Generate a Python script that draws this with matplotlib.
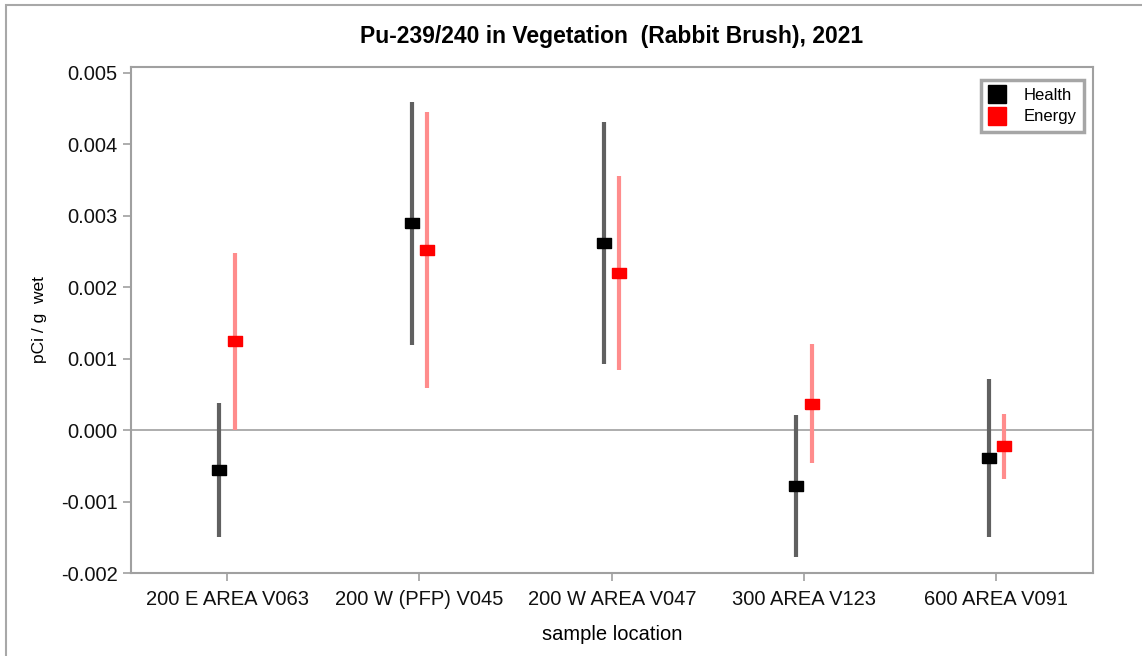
import matplotlib.pyplot as plt
from matplotlib.lines import Line2D
from matplotlib.patches import Rectangle
from matplotlib.transforms import Bbox, TransformedBbox

plt.rcParams['font.family'] = ['Liberation Sans', 'DejaVu Sans']

# sample locations and results (pCi/g wet, value +/- uncertainty)
locations = ["200 E AREA V063", "200 W (PFP) V045", "200 W AREA V047",
             "300 AREA V123", "600 AREA V091"]
health_val = [-0.00056, 0.00289, 0.00262, -0.00078, -0.00039]
health_err = [0.00094, 0.00170, 0.00169, 0.00099, 0.00110]
energy_val = [0.00124, 0.00252, 0.00220, 0.00037, -0.00023]
energy_err = [0.00124, 0.00193, 0.00136, 0.00083, 0.00045]
yticks = [-0.002, -0.001, 0.0, 0.001, 0.002, 0.003, 0.004, 0.005]

grid_c = "#a0a0a0"
box = [(-1.4, -1), (1.4, -1), (1.4, 1), (-1.4, 1), (-1.4, -1)]

fig = plt.figure(figsize=(11.42, 6.56), dpi=100)
ax = fig.add_axes([0.1147, 0.1265, 0.842, 0.7715])

x = list(range(len(locations)))
xh = [i - 0.04 for i in x]
xe = [i + 0.04 for i in x]

ax.axhline(0, color=grid_c, lw=1.2, zorder=1)
ax.errorbar(xh, health_val, yerr=health_err, fmt="none", ecolor="#606060",
            elinewidth=3, capsize=0, zorder=2)
ax.errorbar(xe, energy_val, yerr=energy_err, fmt="none", ecolor="#ff8c8c",
            elinewidth=3, capsize=0, zorder=2)
ax.plot(xh, health_val, ls="none", marker=box, ms=10, color="black", zorder=3)
ax.plot(xe, energy_val, ls="none", marker=box, ms=10, color="red", zorder=3)

ax.set_xlim(-0.5, len(locations) - 0.5)
ax.set_ylim(-0.002, 0.00508)
ax.set_xticks(x)
ax.set_xticklabels(locations, fontsize=14.5)
ax.set_yticks(yticks)
ax.set_yticklabels([f"{v:.3f}" for v in yticks], fontsize=14.5)
ax.tick_params(colors=grid_c, labelcolor="#111111", length=6, width=1.2)
ax.tick_params(axis="x", pad=6)
for s in ax.spines.values():
    s.set_color(grid_c)
    s.set_linewidth(1.5)

ax.set_xlabel("sample location", fontsize=14.5, labelpad=12)
ax.set_ylabel("pCi / g  wet", fontsize=12.5, labelpad=10)
ax.set_title("Pu-239/240 in Vegetation  (Rabbit Brush), 2021",
             fontsize=16.5, fontweight="bold", pad=17)

handles = [Line2D([], [], ls="none", marker="s", ms=13, color="black"),
           Line2D([], [], ls="none", marker="s", ms=13, color="red")]
leg = ax.legend(handles, ["Health", "Energy"], loc="upper right",
                bbox_to_anchor=(1.0, 0.99), fontsize=12, frameon=True,
                fancybox=False, edgecolor="#909090", handlelength=1.0,
                handletextpad=1.1, borderpad=0.45, labelspacing=0.4)
leg.get_frame().set_linewidth(2.5)
clip = TransformedBbox(Bbox([[0, 0], [0.9975, 1]]), ax.transAxes)
for t in leg.get_texts():
    t.set_clip_box(clip)
    t.set_clip_on(True)

# outer border of the figure
fig.patches.append(Rectangle((0.005, -0.01), 1.1, 1.002, transform=fig.transFigure,
                             fill=False, edgecolor="#a8a8a8", lw=1.5))

fig.savefig("out.png", dpi=100)
